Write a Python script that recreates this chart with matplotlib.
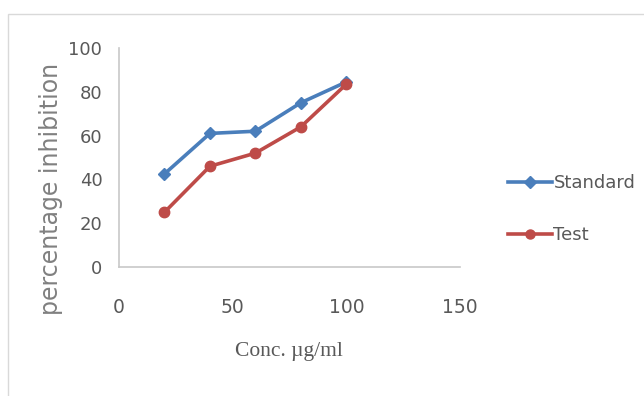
import matplotlib
matplotlib.use("Agg")
import matplotlib.pyplot as plt
from matplotlib.patches import Rectangle
from matplotlib.lines import Line2D

conc = [20, 40, 60, 80, 100]
standard = [42.5, 61, 62, 75, 84.5]
test = [25, 46, 52, 64, 83.5]
x_ticks = [0, 50, 100, 150]
y_ticks = [0, 20, 40, 60, 80, 100]

blue = "#4a7ebb"
red = "#be4b48"
label_col = "#595959"
axis_col = "#c8c8c8"

W, H = 644, 396
fig = plt.figure(figsize=(W / 100, H / 100), dpi=100)
fig.patches.append(Rectangle((8 / W, -0.05), 1.0, 1 - 14 / H + 0.05,
                             transform=fig.transFigure, fill=False,
                             edgecolor="#d9d9d9", linewidth=1.0))

ax = fig.add_axes([119 / W, 1 - 267 / H, (460 - 119) / W, (267 - 48) / H])
ax.plot(conc, standard, color=blue, lw=2.6, marker="D", ms=6.5, label="Standard")
ax.plot(conc, test, color=red, lw=2.6, marker="o", ms=7.5, label="Test")

ax.set_xlim(0, 150)
ax.set_ylim(0, 100)
ax.set_xticks(x_ticks)
ax.set_yticks(y_ticks)
for s in ["top", "right"]:
    ax.spines[s].set_visible(False)
for s in ["left", "bottom"]:
    ax.spines[s].set_color(axis_col)
    ax.spines[s].set_linewidth(1.2)
ax.tick_params(length=0, colors=label_col)
ax.tick_params(axis="x", pad=22)
ax.tick_params(axis="y", pad=12)
for t in ax.get_xticklabels():
    t.set_fontfamily("DejaVu Sans")
    t.set_fontsize(13.5)
for t in ax.get_yticklabels():
    t.set_fontfamily("DejaVu Sans")
    t.set_fontsize(13)

fig.text(289 / W, 1 - 342 / H, "Conc. µg/ml",
         family=["Liberation Serif", "DejaVu Serif"], fontsize=15.5,
         color=label_col, ha="center", va="top")
fig.text(51 / W, 1 - 189 / H, "percentage inhibition", family="DejaVu Sans",
         fontsize=17, color="#808080", rotation=90, ha="center", va="center")

handles = [Line2D([], [], color=blue, lw=2.6, marker="D", ms=6),
           Line2D([], [], color=red, lw=2.6, marker="o", ms=6.5)]
leg = fig.legend(handles, ["Standard", "Test"], loc="center left",
                 bbox_to_anchor=(492 / W, 1 - 209 / H), frameon=False,
                 handlelength=2.4, handletextpad=0.1, labelspacing=1.9,
                 prop={"family": "DejaVu Sans", "size": 13})
for t in leg.get_texts():
    t.set_color(label_col)

fig.savefig("out.png", dpi=100)
